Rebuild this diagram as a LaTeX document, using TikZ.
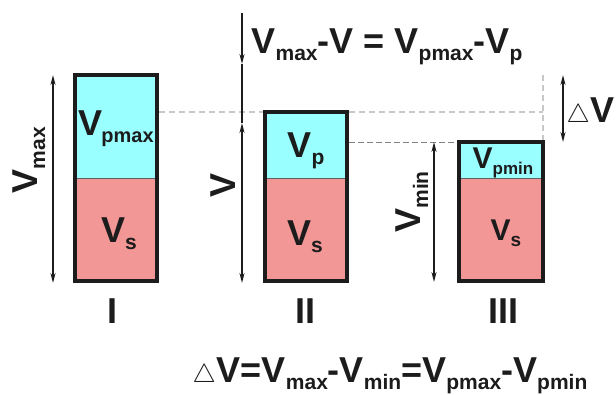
\documentclass[tikz,border=0pt]{standalone}
\usepackage{fontspec}
\setmainfont{Liberation Sans}
\usetikzlibrary{arrows.meta}
\definecolor{ink}{RGB}{28,28,28}
\definecolor{gasc}{RGB}{153,255,255}
\definecolor{solidc}{RGB}{242,150,150}
\definecolor{guide}{RGB}{200,200,200}
\newcommand{\sub}[2][21]{\raisebox{-0.21em}{\fontsize{#1}{#1}\selectfont #2}}
\newcommand{\dV}{\scalebox{1.05}{$\triangle$}\kern1pt}

\begin{document}
\begin{tikzpicture}[
x=1pt, y=-1pt,
big/.style={font=\fontsize{36}{36}\selectfont\bfseries, text=ink, inner sep=0pt},
small/.style={font=\fontsize{30}{30}\selectfont\bfseries, text=ink, inner sep=0pt},
tank/.style={draw=ink, line width=4.5pt},
split/.style={draw=ink!70, line width=0.6pt},
stem/.style={draw=ink, line width=1.6pt},
measure/.style={stem, {Stealth[length=10pt,width=5pt]}-{Stealth[length=10pt,width=5pt]}},
onehead/.style={stem, -{Stealth[length=10pt,width=5pt]}},
level/.style={draw=guide, line width=2.8pt, dash pattern=on 6pt off 4pt},
lowlevel/.style={draw=ink!55, line width=0.8pt, dash pattern=on 6pt off 3pt}
]
\useasboundingbox (0,0) rectangle (616,394);

% guide levels
\coordinate (lvtop) at (159,112);
\coordinate (lvend) at (543,112);
\coordinate (dvtop) at (543,75);
\coordinate (dvbot) at (543,140);
\draw[level] (lvtop) -- (lvend);
\draw[level] (dvtop) -- (dvbot);
\coordinate (mintop) at (349,142);
\coordinate (minend) at (457,142);
\draw[lowlevel] (mintop) -- (minend);

% tank I
\fill[solidc] (75,178) rectangle (157,281);
\fill[gasc] (75,75) rectangle (157,178);
\draw[split] (75,178) -- (157,178);
\draw[tank] (75,75) rectangle (157,281);
% tank II
\fill[solidc] (265,178) rectangle (347,281);
\fill[gasc] (265,112) rectangle (347,178);
\draw[split] (265,178) -- (347,178);
\draw[tank] (265,112) rectangle (347,281);
% tank III
\fill[solidc] (459,178) rectangle (543,281);
\fill[gasc] (459,142) rectangle (543,178);
\draw[split] (459,178) -- (543,178);
\draw[tank] (459,142) rectangle (543,281);

% contents
\node[big, anchor=base] (gas1) at (116,135) {V\kern-1pt\sub[20]{pmax}};
\node[big, anchor=base] (sol1) at (119,242) {V\sub{s}};
\node[big, anchor=base] (gas2) at (306,157) {V\sub{p}};
\node[big, anchor=base] (sol2) at (305,245) {V\sub{s}};
\node[small, anchor=base] (gas3) at (503,168) {V\sub[17]{pmin}};
\node[small, anchor=base] (sol3) at (506,240) {V\sub[19]{s}};

\node[big, anchor=base] (lab1) at (112,323) {I};
\node[big, anchor=base] (lab2) at (305,323) {II};
\node[big, anchor=base] (lab3) at (503,323) {III};

% measures
\coordinate (a1t) at (53,75);
\coordinate (a1b) at (53,283);
\draw[measure] (a1t) -- (a1b);
\node[big, rotate=90] (vmax) at (29,160) {V\sub{max}};

\coordinate (a2t) at (242,13);
\coordinate (a2m) at (242,64);
\coordinate (a2u) at (242,123);
\coordinate (a2b) at (242,283);
\draw[onehead] (a2t) -- (a2m);
\draw[stem] (a2m) -- (a2u);
\draw[measure] (a2u) -- (a2b);
\node[big, rotate=90] (vol) at (223,185) {V};

\coordinate (a3t) at (434,142);
\coordinate (a3b) at (434,282);
\draw[measure] (a3t) -- (a3b);
\node[big, rotate=90] (vmin) at (412,202) {V\sub{min}};

\coordinate (a4t) at (563,75);
\coordinate (a4b) at (563,142);
\draw[measure] (a4t) -- (a4b);
\node[big, anchor=base east] (dv) at (615,122) {\dV V};

% relations
\node[big, anchor=base] (eqtop) at (387,53) {V\sub{max}-V = V\sub{pmax}-V\sub{p}};
\node[big, anchor=base] (eqbot) at (390,382) {\dV V=V\sub{max}-V\sub{min}=V\sub{pmax}-V\sub{pmin}};
\end{tikzpicture}
\end{document}
